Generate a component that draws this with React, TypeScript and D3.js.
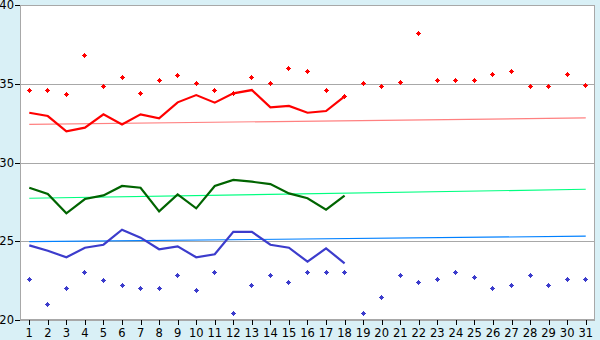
import React from "react";
import * as d3 from "d3";

const days: number[] = d3.range(1, 32);
const yTicks: number[] = [20, 25, 30, 35, 40];

const redPoints: number[] = [34.58, 34.6, 34.33, 36.8, 34.84, 35.41, 34.39, 35.22, 35.53, 35.03, 34.6, 34.39, 35.41, 35.03, 35.98, 35.79, 34.6, 34.2, 35.03, 34.84, 35.1, 38.2, 35.22, 35.22, 35.22, 35.6, 35.79, 34.84, 34.84, 35.6, 34.9];
const redLine: number[] = [33.16, 32.95, 31.98, 32.21, 33.06, 32.42, 33.06, 32.8, 33.82, 34.28, 33.8, 34.39, 34.6, 33.5, 33.59, 33.16, 33.27, 34.2];
const greenLine: number[] = [28.4, 28.0, 26.77, 27.68, 27.91, 28.51, 28.4, 26.9, 27.98, 27.09, 28.51, 28.89, 28.78, 28.63, 28.04, 27.73, 27.0, 27.89];
const blueLine: number[] = [24.74, 24.4, 23.98, 24.59, 24.78, 25.73, 25.23, 24.49, 24.68, 23.98, 24.17, 25.6, 25.6, 24.78, 24.59, 23.7, 24.55, 23.6];
const bluePoints: number[] = [22.6, 21.0, 22.01, 23.03, 22.52, 22.2, 22.01, 22.01, 22.84, 21.89, 23.03, 20.42, 22.2, 22.84, 22.39, 23.03, 23.03, 23.03, 20.42, 21.44, 22.84, 22.39, 22.58, 23.03, 22.71, 22.01, 22.2, 22.84, 22.2, 22.58, 22.58];
const redTrend: number[] = [32.42, 32.83];
const greenTrend: number[] = [27.73, 28.3];
const blueTrend: number[] = [24.97, 25.32];

const W = 600, H = 340;
const left = 20, right = 595, top = 5, bottom = 320;

export default function App() {
  const x = d3.scaleBand<number>().domain(days).range([left, right]);
  const cx = (d: number) => (x(d) as number) + x.bandwidth() / 2;
  const y = d3.scaleLinear().domain([20, 40]).range([bottom, top]);
  const line = d3.line<number>().x((_, i) => cx(days[i])).y((v) => y(v));
  const trend = (t: number[]) =>
    d3.line<number>().x((_, i) => cx(i === 0 ? days[0] : days[days.length - 1])).y((v) => y(v))(t) as string;
  const marker = (px: number, py: number) => {
    const X = Math.round(px - 0.5), Y = Math.round(py - 0.5);
    return `M${X},${Y - 2}h1v1h1v1h1v1h-1v1h-1v1h-1v-1h-1v-1h-1v-1h1v-1h1Z`;
  };
  const font = "DejaVu Sans, Verdana, sans-serif";
  return (
    <svg width={W} height={H} style={{ position: "absolute", left: 0, top: 0 }}>
      <rect x={0} y={0} width={W} height={H} fill="#d9f0f6" />
      <rect x={left} y={top} width={right - left} height={bottom - top} fill="#ffffff" />
      {yTicks.filter((t) => t > 20 && t < 40).map((t) => (
        <line key={t} x1={left} x2={right} y1={Math.round(y(t)) + 0.5} y2={Math.round(y(t)) + 0.5} stroke="#a8a8a8" />
      ))}
      <rect x={left + 0.5} y={top + 0.5} width={right - left - 1} height={bottom - top - 1} fill="none" stroke="#a8a8a8" />
      {/* trend lines */}
      <path d={trend(redTrend)} stroke="#ff8080" strokeWidth={1.2} fill="none" />
      <path d={trend(greenTrend)} stroke="#00ff80" strokeWidth={1.2} fill="none" />
      <path d={trend(blueTrend)} stroke="#0080ff" strokeWidth={1.2} fill="none" />
      {/* main lines */}
      <path d={line(redLine) as string} stroke="#ff0000" strokeWidth={2.2} fill="none" />
      <path d={line(greenLine) as string} stroke="#006400" strokeWidth={2.2} fill="none" />
      <path d={line(blueLine) as string} stroke="#3c3ccc" strokeWidth={2.2} fill="none" />
      {/* points */}
      {redPoints.map((v, i) => (
        <path key={"r" + i} d={marker(cx(days[i]), y(v))} fill="#ff0000" shapeRendering="crispEdges" />
      ))}
      {bluePoints.map((v, i) => (
        <path key={"b" + i} d={marker(cx(days[i]), y(v))} fill="#3c3ccc" shapeRendering="crispEdges" />
      ))}
      {/* axes */}
      <line x1={left + 0.5} x2={left + 0.5} y1={top} y2={bottom} stroke="#a8a8a8" />
      <line x1={left} x2={right} y1={bottom + 0.5} y2={bottom + 0.5} stroke="#a8a8a8" />
      {yTicks.map((t) => (
        <g key={"yt" + t}>
          <line x1={left - 5} x2={left} y1={Math.round(y(t)) + 0.5} y2={Math.round(y(t)) + 0.5} stroke="#000" />
          <text x={left - 6} y={y(t)} dy="0.36em" textAnchor="end" fontFamily={font} fontSize={11.5} fill="#000">{t}</text>
        </g>
      ))}
      {days.map((d) => (
        <g key={"xt" + d}>
          <line x1={Math.round(cx(d)) + 0.5} x2={Math.round(cx(d)) + 0.5} y1={bottom} y2={bottom + 5} stroke="#000" />
          <text x={cx(d)} y={bottom + 17} textAnchor="middle" fontFamily={font} fontSize={11.5} fill="#000">{d}</text>
        </g>
      ))}
    </svg>
  );
}
